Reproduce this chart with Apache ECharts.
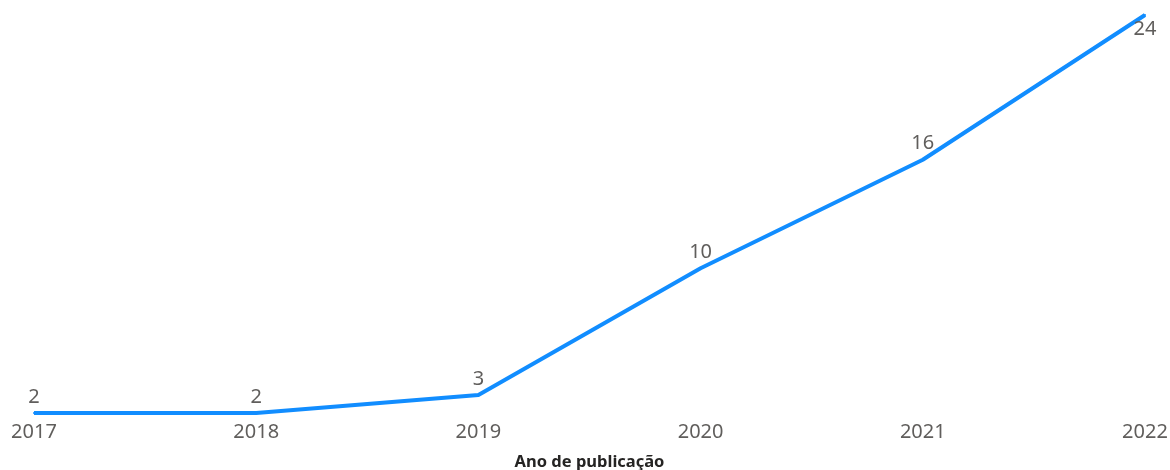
<!DOCTYPE html>
<html>
<head>
<meta charset="utf-8">
<script src="https://cdn.jsdelivr.net/npm/echarts@6/dist/echarts.min.js"></script>
<style>
html,body{margin:0;padding:0;background:#fff;}
#chart{width:1170px;height:470px;}
</style>
</head>
<body>
<div id="chart"></div>
<script>
const years = ['2017', '2018', '2019', '2020', '2021', '2022'];
const counts = [2, 2, 3, 10, 16, 24];
const xAxisName = 'Ano de publicação';

const chart = echarts.init(document.getElementById('chart'));
const seriesData = counts.map((v, i) => {
  const item = { value: v };
  if (i === counts.length - 1) {
    item.label = { position: 'bottom', distance: 3, offset: [-4, 0] };
  }
  return item;
});
chart.setOption({
  animation: false,
  grid: { left: 34, right: 25, top: 15, bottom: 57, outerBoundsMode: 'none', containLabel: false },
  xAxis: {
    type: 'category',
    data: years,
    boundaryGap: false,
    axisLine: { show: false },
    axisTick: { show: false },
    axisLabel: { color: '#605E5C', fontSize: 20, fontFamily: 'Noto Sans', margin: 9 },
    name: xAxisName,
    nameLocation: 'middle',
    nameGap: 41,
    nameTextStyle: { color: '#252423', fontSize: 16.5, fontWeight: 'bold', fontFamily: 'Noto Sans' }
  },
  yAxis: {
    type: 'value',
    min: 2,
    max: 24,
    show: false,
    splitLine: { show: false }
  },
  series: [{
    type: 'line',
    data: seriesData,
    symbol: 'circle',
    symbolSize: 2,
    showSymbol: true,
    showAllSymbol: true,
    lineStyle: { color: '#118DFF', width: 4 },
    itemStyle: { color: '#118DFF' },
    labelLayout: { hideOverlap: false },
    label: {
      show: true,
      position: 'top',
      distance: 5,
      color: '#605E5C',
      fontSize: 20,
      fontFamily: 'Noto Sans'
    }
  }]
});
</script>
</body>
</html>
